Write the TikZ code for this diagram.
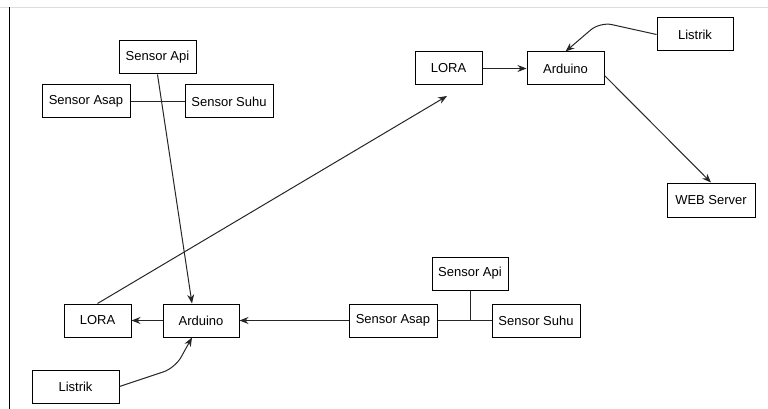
\documentclass[tikz,border=0pt]{standalone}
\usepackage{fontspec}
\setmainfont{Liberation Sans}
\usetikzlibrary{arrows.meta,positioning,calc}
\definecolor{edgegrey}{HTML}{DDDDDD}
\tikzset{
  >={Stealth[length=9pt,width=7pt]},
  font=\fontsize{13}{15}\selectfont,
  block/.style={draw=black,line width=1pt,minimum height=33pt,inner sep=2pt,align=center},
  link/.style={line width=1pt,draw=black!85},
  flow/.style={->,line width=1pt,draw=black!85},
}
\begin{document}
\begin{tikzpicture}[x=1pt,y=-1pt]
  \useasboundingbox (0,0) rectangle (768,409);
  % page edges
  \draw[edgegrey,line width=1pt] (0,7.5) -- (768,7.5);
  \draw[black,line width=1pt] (9.5,7.5) -- (9.5,409);

  % receiving side
  \node[block,minimum width=67pt] (loraT)    at (448.5,68.5) {LORA};
  \node[block,minimum width=77pt] (ardT)     at (565.5,68.5) {Arduino};
  \node[block,minimum width=76pt] (listrikT) at (695,34.5)   {Listrik};
  \node[block,minimum width=88pt,minimum height=34pt] (web) at (711,200) {WEB Server};

  % sensors, top left
  \node[block,minimum width=77pt] (apiT)  at (157.5,57.5) {Sensor Api};
  \node[block,minimum width=88pt] (asapT) at (86,101.5)   {Sensor Asap};
  \node[block,minimum width=88pt] (suhuT) at (229,101.5)  {Sensor Suhu};

  % sending side
  \node[block,minimum width=67pt] (loraB)    at (97.5,320.5) {LORA};
  \node[block,minimum width=76pt] (ardB)     at (201,320.5)  {Arduino};
  \node[block,minimum width=87pt] (listrikB) at (75.5,386.5) {Listrik};

  % sensors, bottom right
  \node[block,minimum width=76pt] (apiB)  at (470,273.5) {Sensor Api};
  \node[block,minimum width=88pt] (asapB) at (393,320.5) {Sensor Asap};
  \node[block,minimum width=88pt] (suhuB) at (536,320.5) {Sensor Suhu};

  \coordinate (ardBin)   at ($(ardB.north)+(-9,0)$);
  \coordinate (ardBpow)  at ($(ardB.south)+(-9,0)$);
  \coordinate (ardTout)  at ($(ardT.south east)+(0,-10)$);
  \coordinate (loraTend) at (447,96);

  \draw[link] (asapT.east) -- (suhuT.west);
  \draw[flow] (apiT.south) -- (ardBin);

  \draw[flow] (loraT.east) -- (ardT.west);
  \draw[flow,rounded corners=12pt] (listrikT.west) -- (600,22) -- (ardT.north);
  \draw[flow] (ardTout) -- (web.north);

  \draw[flow] (loraB.north) -- (loraTend);
  \draw[flow] (ardB.west) -- (loraB.east);
  \draw[flow] (asapB.west) -- (ardB.east);
  \draw[flow,rounded corners=12pt] (listrikB.east) -- (175,368) -- (ardBpow);

  \draw[link] (asapB.east) -- (suhuB.west);
  \draw[link] (apiB.south) -- (apiB.south |- asapB.east);
\end{tikzpicture}
\end{document}
